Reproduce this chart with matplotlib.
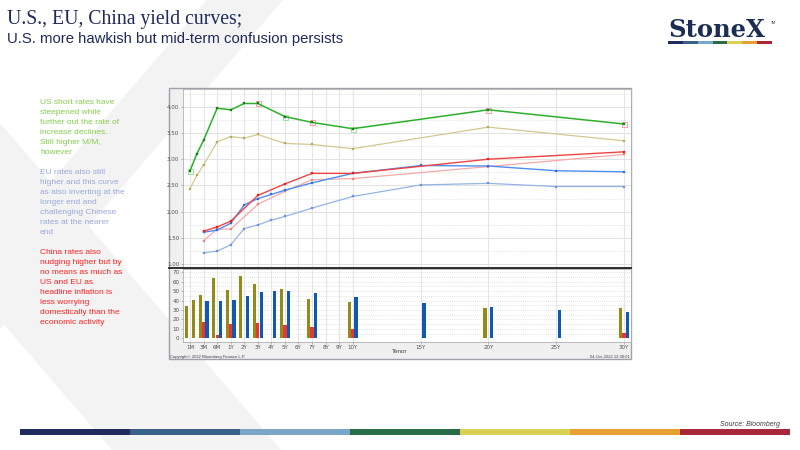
import matplotlib
matplotlib.use("Agg")
import matplotlib.pyplot as plt
from matplotlib.patches import Polygon, Rectangle
from matplotlib.lines import Line2D
import numpy as np

# tenor axis: evenly spaced up to 10Y, then 5 slots per step
tenor_pos = {"1M": 0, "2M": 0.5, "3M": 1, "6M": 2, "1Y": 3, "2Y": 4, "3Y": 5, "4Y": 6,
             "5Y": 7, "6Y": 8, "7Y": 9, "8Y": 10, "9Y": 11, "10Y": 12,
             "15Y": 17, "20Y": 22, "25Y": 27, "30Y": 32}
tick_labels = ["1M", "3M", "6M", "1Y", "2Y", "3Y", "4Y", "5Y", "6Y", "7Y", "8Y", "9Y",
               "10Y", "15Y", "20Y", "25Y", "30Y"]

# US yields (current / one month earlier)
us_tenors = ["1M", "2M", "3M", "6M", "1Y", "2Y", "3Y", "5Y", "7Y", "10Y", "20Y", "30Y"]
us_now = [2.78, 3.10, 3.36, 3.97, 3.94, 4.06, 4.06, 3.81, 3.70, 3.58, 3.94, 3.67]
us_prev = [2.44, 2.69, 2.89, 3.33, 3.43, 3.40, 3.47, 3.30, 3.28, 3.20, 3.61, 3.35]
us_flag_tenors = ["1M", "3Y", "5Y", "7Y", "10Y", "20Y", "30Y"]
us_flag_colors = ["#9ee09e", "#f4a0a0", "#9ee09e", "#f4a0a0", "#9ee09e", "#f4a0a0", "#f4a0a0"]

# China yields
cn_tenors = ["3M", "6M", "1Y", "3Y", "5Y", "7Y", "10Y", "20Y", "30Y"]
cn_now = [1.63, 1.71, 1.82, 2.31, 2.53, 2.73, 2.73, 3.00, 3.14]
cn_prev = [1.45, 1.67, 1.67, 2.14, 2.39, 2.61, 2.63, 2.86, 3.09]

# EU yields
eu_tenors = ["3M", "6M", "1Y", "2Y", "3Y", "4Y", "5Y", "7Y", "10Y", "15Y", "20Y", "25Y", "30Y"]
eu_now = [1.61, 1.65, 1.78, 2.13, 2.25, 2.33, 2.41, 2.55, 2.73, 2.88, 2.87, 2.78, 2.76]
eu_prev = [1.22, 1.25, 1.37, 1.68, 1.75, 1.84, 1.91, 2.07, 2.29, 2.51, 2.54, 2.48, 2.48]

# changes in bp (bottom panel)
us_chg_tenors = ["1M", "2M", "3M", "6M", "1Y", "2Y", "3Y", "5Y", "7Y", "10Y", "20Y", "30Y"]
us_chg = [34, 41, 46, 64, 51, 66, 58, 52, 42, 39, 32, 32]
cn_chg_tenors = ["3M", "6M", "1Y", "3Y", "5Y", "7Y", "10Y", "30Y"]
cn_chg = [17, 3.5, 15, 16, 14.5, 12.5, 10, 5.3]
eu_chg_tenors = ["3M", "6M", "1Y", "2Y", "3Y", "4Y", "5Y", "7Y", "10Y", "15Y", "20Y", "25Y", "30Y"]
eu_chg = [39.5, 40, 41, 45, 49, 50, 50.5, 48.5, 44, 37, 33, 29.5, 28]

green_notes = ["US short rates have", "steepened while", "further out the rate of",
               "increase declines.", "Still higher M/M,", "however"]
blue_notes = ["EU rates also still", "higher and this curve", "as also inverting at the",
              "longer end and", "challenging Chinese", "rates at the nearer", "end"]
red_notes = ["China rates also", "nudging higher but by", "no means as much as",
             "US and EU as", "headline inflation is", "less worrying",
             "domestically than the", "economic activity"]

stripe_colors = ["#1f2a5e", "#3a5f8a", "#7aa6c8", "#2a6b4a", "#dccf55", "#e8a030", "#a8283a"]


def pos(tenors):
    return [tenor_pos[t] for t in tenors]


W, H = 800, 450
fig = plt.figure(figsize=(8, 4.5), dpi=100)
fig.patch.set_facecolor("white")


def px(x, y):
    return x / W, 1 - y / H


# background chevron
for pts in ([(207, 0), (283, 0), (0, 329), (0, 241)],
            [(0, 123), (281, 450), (112, 450), (0, 320)]):
    fig.patches.append(Polygon([px(*p) for p in pts], closed=True, transform=fig.transFigure,
                               facecolor="#f3f3f3", edgecolor="none", zorder=-3))

# titles
fig.text(7 / W, 1 - 24 / H, "U.S., EU, China yield curves;", family="Liberation Serif",
         fontsize=14.2, color="#1f2a5a")
fig.text(7 / W, 1 - 43 / H, "U.S. more hawkish but mid-term confusion persists",
         family="Liberation Sans", fontsize=10.7, color="#1f2a5a")

# logo
fig.text(668 / W, 1 - 37 / H, "StoneX", family="DejaVu Serif", fontweight="bold",
         fontsize=17.5, color="#1b2d52")
fig.text(771 / W, 1 - 24 / H, "TM", family="Liberation Sans", fontsize=2.5, color="#1b2d52")
seg = 104 / len(stripe_colors)
for i, c in enumerate(stripe_colors):
    fig.patches.append(Rectangle(px(668 + i * seg, 44), seg / W, 3 / H,
                                 transform=fig.transFigure, facecolor=c, edgecolor="none"))

# footer stripe
seg = 770 / len(stripe_colors)
for i, c in enumerate(stripe_colors):
    fig.patches.append(Rectangle(px(20 + i * seg, 435), seg / W, 6 / H,
                                 transform=fig.transFigure, facecolor=c, edgecolor="none"))
fig.text(780 / W, 1 - 426 / H, "Source: Bloomberg", ha="right", family="Liberation Sans",
         fontsize=5, style="italic", color="#404040")

# commentary on the left
y = 104
for lines, col in ((green_notes, "#86cc50"), (blue_notes, "#9aa8dc"), (red_notes, "#ff2020")):
    for ln in lines:
        fig.text(40 / W, 1 - y / H, ln, family="Liberation Sans", fontsize=6, color=col)
        y += 10
    y += 10

# chart frame
fig.patches.append(Rectangle(px(169, 359), 462 / W, 271 / H, transform=fig.transFigure,
                             facecolor="#f0f0f0", edgecolor="#a0a0aa", lw=1.0, zorder=-2))

ax = fig.add_axes([182.7 / W, 1 - 267.7 / H, 448 / W, 178.4 / H])
axb = fig.add_axes([182.7 / W, 1 - 341.7 / H, 448 / W, 72.7 / H])

xmin, xmax = -0.54, 32.5
tick_x = pos(tick_labels)
for a in (ax, axb):
    a.set_facecolor("white")
    a.set_xlim(xmin, xmax)
    a.set_xticks(tick_x)
    for s in a.spines.values():
        s.set_color("#b0b0b0")
        s.set_linewidth(0.6)
    a.tick_params(length=1.5, width=0.4, color="#808080", labelsize=4, labelcolor="#505050", pad=1)
    for xv in tick_x:
        a.axvline(xv, color="#e6e6e6", lw=0.8, zorder=0)

# top panel: yield curves
ax.set_ylim(0.935, 4.33)
ax.set_yticks(np.arange(1.0, 4.01, 0.5))
ax.set_yticklabels([f"{v:.2f}" for v in np.arange(1.0, 4.01, 0.5)])
ax.set_xticklabels([])
for v in np.arange(1.0, 4.3, 0.25):
    if abs(v * 2 - round(v * 2)) < 1e-6:
        ax.axhline(v, color="#e2e2e2", lw=0.7, zorder=0)
    else:
        ax.axhline(v, color="#cccccc", lw=0.5, ls=(0, (1, 2)), zorder=0)

mk = dict(marker="s", mew=0.2)
ax.plot(pos(us_tenors), us_prev, color="#d4c890", lw=0.9, ms=1.5, mfc="#b8a860", mec="#b8a860", **mk)
ax.plot(pos(cn_tenors), cn_prev, color="#f6a8a8", lw=0.9, ms=1.5, mfc="#f08080", mec="#f08080", **mk)
ax.plot(pos(eu_tenors), eu_prev, color="#94b4e4", lw=0.9, ms=1.5, mfc="#6a94d8", mec="#6a94d8", **mk)
ax.plot(pos(eu_tenors), eu_now, color="#4f8ef0", lw=1.0, ms=1.7, mfc="#2f6fe0", mec="#2f6fe0", **mk)
ax.plot(pos(cn_tenors), cn_now, color="#f04444", lw=1.0, ms=1.7, mfc="#e02020", mec="#e02020", **mk)
us_lookup = dict(zip(us_tenors, us_now))
for t, c in zip(us_flag_tenors, us_flag_colors):
    ax.plot(tenor_pos[t], us_lookup[t], "s", ms=3.6, mfc="none", mec=c, mew=0.7)
ax.plot(pos(us_tenors), us_now, color="#2cb02c", lw=1.1, ms=1.9, mfc="#108010", mec="#108010", **mk)

# bottom panel: changes
axb.set_ylim(-3.6, 73.5)
axb.set_yticks(range(0, 71, 10))
axb.set_xticklabels(tick_labels)
for v in range(5, 71, 5):
    axb.axhline(v, color="#cccccc", lw=0.5, ls=(0, (1, 2)), zorder=0)
bw = 0.24
axb.bar(np.array(pos(us_chg_tenors)) - 0.25, us_chg, width=bw, color="#938a18", edgecolor="none", zorder=2)
axb.bar(np.array(pos(cn_chg_tenors)), cn_chg, width=bw, color="#e83535", edgecolor="none", zorder=2)
axb.bar(np.array(pos(eu_chg_tenors)) + 0.25, eu_chg, width=bw, color="#1058b0", edgecolor="none", zorder=2)

# separator between panels and chart texts
fig.add_artist(Line2D([169 / W, 631 / W], [1 - 268.3 / H] * 2, color="#202020", lw=1.3))
fig.text(400 / W, 1 - 353 / H, "Tenor", ha="center", family="Liberation Sans", fontsize=4.5, color="#404040")
fig.text(170 / W, 1 - 358 / H, "Copyright\u00a9 2022 Bloomberg Finance L.P.", family="Liberation Sans",
         fontsize=3, color="#404040")
fig.text(630 / W, 1 - 358 / H, "04-Oct-2022 12:38:01", ha="right", family="Liberation Sans",
         fontsize=3, color="#404040")

fig.savefig("out.png", dpi=100)
